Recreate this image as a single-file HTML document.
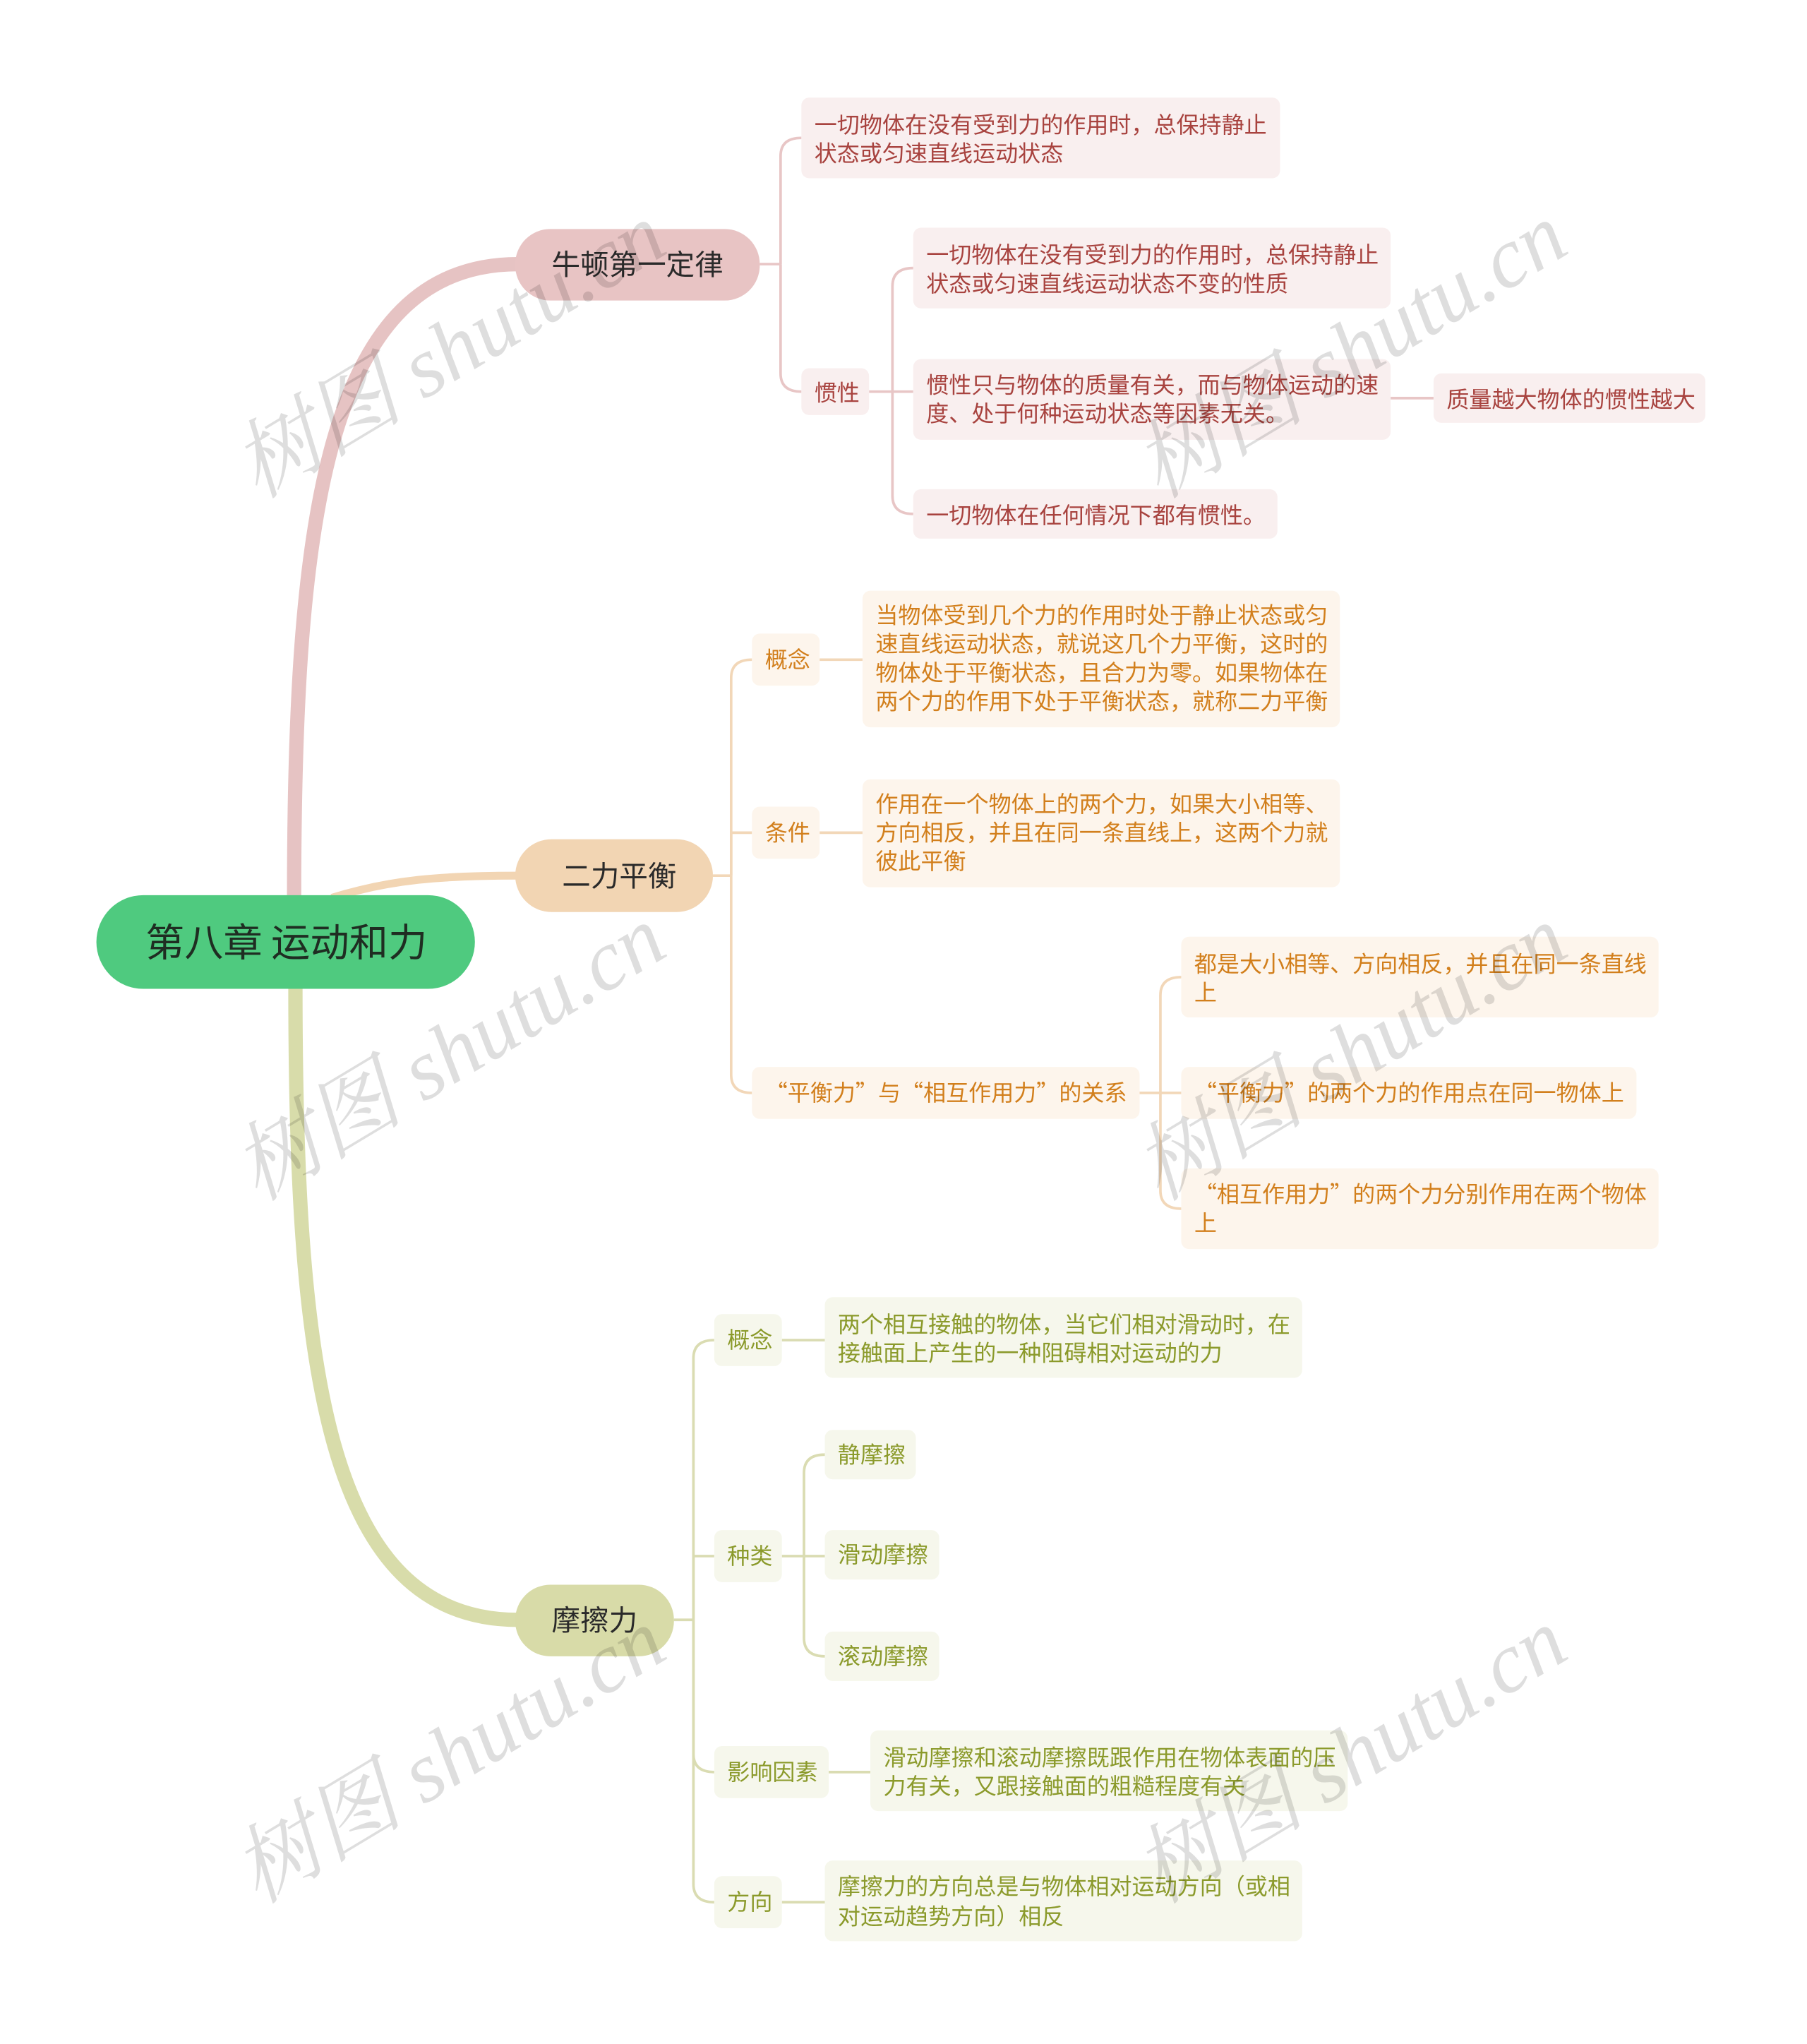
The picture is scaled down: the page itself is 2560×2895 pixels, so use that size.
<!DOCTYPE html>
<html><head><meta charset="utf-8"><style>
html,body{margin:0;padding:0;background:#fff}
svg{display:block}
text{font-family:"Noto Sans CJK SC","Liberation Sans",sans-serif}
.p{fill:#a8433f;font-size:17.4px}
.o{fill:#d27f1c;font-size:17.4px}
.g{fill:#8b9a2b;font-size:17.4px}
</style></head><body>
<svg width="2560" height="2895" viewBox="0 0 1389 1571" xmlns="http://www.w3.org/2000/svg">
<rect width="1389" height="1571" fill="#fff"/>
<path d="M226 690 C226 400 250 203 398 203" fill="none" stroke="#e6c3c3" stroke-width="11"/>
<path d="M255 690 C300 676 340 673 398 673" fill="none" stroke="#f2d5b3" stroke-width="6"/>
<path d="M227 758 C227 1050 250 1245 398 1245" fill="none" stroke="#d8dcaa" stroke-width="11"/>

<g fill="none" stroke="#e8c6c6" stroke-width="2">
<path d="M584 203 H600"/>
<path d="M600 203 V120 Q600 106 616 106"/>
<path d="M600 203 V287 Q600 301 616 301"/>
<path d="M668 301 H686"/>
<path d="M686 301 V220 Q686 206 702 206"/>
<path d="M686 301 H702"/>
<path d="M686 301 V381 Q686 395 702 395"/>
<path d="M1069 306 H1102"/>
</g>
<g fill="none" stroke="#f2d7b8" stroke-width="2">
<path d="M548 673 H562"/>
<path d="M562 673 V521 Q562 507 578 507"/>
<path d="M562 673 V640 H578"/>
<path d="M562 673 V826 Q562 840 578 840"/>
<path d="M630 507 H663"/>
<path d="M630 640 H663"/>
<path d="M876 840 H892"/>
<path d="M892 840 V765 Q892 751 908 751"/>
<path d="M892 840 H908"/>
<path d="M892 840 V915 Q892 929 908 929"/>
</g>
<g fill="none" stroke="#dadcb2" stroke-width="2">
<path d="M518 1245 H533"/>
<path d="M533 1245 V1044 Q533 1030 549 1030"/>
<path d="M533 1245 V1196 H549"/>
<path d="M533 1245 V1348 Q533 1362 549 1362"/>
<path d="M533 1245 V1448 Q533 1462 549 1462"/>
<path d="M601 1030 H634"/>
<path d="M601 1196 H618"/>
<path d="M618 1196 V1132 Q618 1118 634 1118"/>
<path d="M618 1196 H634"/>
<path d="M618 1196 V1259 Q618 1273 634 1273"/>
<path d="M637 1362 H669"/>
<path d="M601 1462 H634"/>
</g>

<rect x="74" y="688" width="291" height="72" rx="36" fill="#4fca7f"/>
<text x="220" y="735" font-size="30" fill="#1f2d22" text-anchor="middle">第八章 运动和力</text>

<rect x="396" y="176" width="188" height="55" rx="27" fill="#e8c4c4"/>
<text x="490" y="211" font-size="22" fill="#2a2a2a" text-anchor="middle">牛顿第一定律</text>
<rect x="396" y="645" width="152" height="56" rx="28" fill="#f2d5b3"/>
<text x="476" y="681" font-size="22" fill="#2a2a2a" text-anchor="middle">二力平衡</text>
<rect x="396" y="1218" width="122" height="55" rx="27" fill="#d8dba8"/>
<text x="457" y="1253" font-size="22" fill="#2a2a2a" text-anchor="middle">摩擦力</text>

<g fill="#f9efef">
<rect x="616" y="75" width="368" height="62" rx="6"/>
<rect x="616" y="283" width="52" height="36" rx="6"/>
<rect x="702" y="175" width="367" height="62" rx="6"/>
<rect x="702" y="276" width="367" height="62" rx="6"/>
<rect x="702" y="376" width="280" height="38" rx="6"/>
<rect x="1102" y="287" width="209" height="38" rx="6"/>
</g>
<text class="p" x="626" y="102">一切物体在没有受到力的作用时，总保持静止</text>
<text class="p" x="626" y="124">状态或匀速直线运动状态</text>
<text class="p" x="626" y="308">惯性</text>
<text class="p" x="712" y="202">一切物体在没有受到力的作用时，总保持静止</text>
<text class="p" x="712" y="224">状态或匀速直线运动状态不变的性质</text>
<text class="p" x="712" y="302">惯性只与物体的质量有关，而与物体运动的速</text>
<text class="p" x="712" y="324">度、处于何种运动状态等因素无关。</text>
<text class="p" x="712" y="402">一切物体在任何情况下都有惯性。</text>
<text class="p" x="1112" y="313">质量越大物体的惯性越大</text>

<g fill="#fdf5ec">
<rect x="578" y="487" width="52" height="40" rx="6"/>
<rect x="663" y="454" width="367" height="105" rx="6"/>
<rect x="578" y="620" width="52" height="40" rx="6"/>
<rect x="663" y="599" width="367" height="83" rx="6"/>
<rect x="578" y="820" width="298" height="40" rx="6"/>
<rect x="908" y="720" width="367" height="62" rx="6"/>
<rect x="908" y="820" width="350" height="40" rx="6"/>
<rect x="908" y="898" width="367" height="62" rx="6"/>
</g>
<text class="o" x="588" y="513">概念</text>
<text class="o" x="673" y="479">当物体受到几个力的作用时处于静止状态或匀</text>
<text class="o" x="673" y="501">速直线运动状态，就说这几个力平衡，这时的</text>
<text class="o" x="673" y="523">物体处于平衡状态，且合力为零。如果物体在</text>
<text class="o" x="673" y="545">两个力的作用下处于平衡状态，就称二力平衡</text>
<text class="o" x="588" y="646">条件</text>
<text class="o" x="673" y="624">作用在一个物体上的两个力，如果大小相等、</text>
<text class="o" x="673" y="646">方向相反，并且在同一条直线上，这两个力就</text>
<text class="o" x="673" y="668">彼此平衡</text>
<text class="o" x="588" y="846">“平衡力”与“相互作用力”的关系</text>
<text class="o" x="918" y="747">都是大小相等、方向相反，并且在同一条直线</text>
<text class="o" x="918" y="769">上</text>
<text class="o" x="918" y="846">“平衡力”的两个力的作用点在同一物体上</text>
<text class="o" x="918" y="924">“相互作用力”的两个力分别作用在两个物体</text>
<text class="o" x="918" y="946">上</text>

<g fill="#f6f7ec">
<rect x="549" y="1010" width="52" height="40" rx="6"/>
<rect x="634" y="997" width="367" height="62" rx="6"/>
<rect x="549" y="1176" width="52" height="40" rx="6"/>
<rect x="634" y="1099" width="70" height="38" rx="6"/>
<rect x="634" y="1176" width="88" height="38" rx="6"/>
<rect x="634" y="1254" width="88" height="38" rx="6"/>
<rect x="549" y="1342" width="88" height="40" rx="6"/>
<rect x="669" y="1330" width="367" height="62" rx="6"/>
<rect x="549" y="1442" width="52" height="40" rx="6"/>
<rect x="634" y="1430" width="367" height="62" rx="6"/>
</g>
<text class="g" x="559" y="1036">概念</text>
<text class="g" x="644" y="1024">两个相互接触的物体，当它们相对滑动时，在</text>
<text class="g" x="644" y="1046">接触面上产生的一种阻碍相对运动的力</text>
<text class="g" x="559" y="1202">种类</text>
<text class="g" x="644" y="1124">静摩擦</text>
<text class="g" x="644" y="1201">滑动摩擦</text>
<text class="g" x="644" y="1279">滚动摩擦</text>
<text class="g" x="559" y="1368">影响因素</text>
<text class="g" x="679" y="1357">滑动摩擦和滚动摩擦既跟作用在物体表面的压</text>
<text class="g" x="679" y="1379">力有关，又跟接触面的粗糙程度有关</text>
<text class="g" x="559" y="1468">方向</text>
<text class="g" x="644" y="1456">摩擦力的方向总是与物体相对运动方向（或相</text>
<text class="g" x="644" y="1479">对运动趋势方向）相反</text>

<g fill="#000" fill-opacity="0.13" font-size="66" font-style="italic">
<text transform="translate(198,384) rotate(-31)" style="font-family:'Liberation Serif','Noto Serif CJK SC',serif">树图 shutu.cn</text>
<text transform="translate(198,924) rotate(-31)" style="font-family:'Liberation Serif','Noto Serif CJK SC',serif">树图 shutu.cn</text>
<text transform="translate(198,1464) rotate(-31)" style="font-family:'Liberation Serif','Noto Serif CJK SC',serif">树图 shutu.cn</text>
<text transform="translate(891,384) rotate(-31)" style="font-family:'Liberation Serif','Noto Serif CJK SC',serif">树图 shutu.cn</text>
<text transform="translate(891,924) rotate(-31)" style="font-family:'Liberation Serif','Noto Serif CJK SC',serif">树图 shutu.cn</text>
<text transform="translate(891,1464) rotate(-31)" style="font-family:'Liberation Serif','Noto Serif CJK SC',serif">树图 shutu.cn</text>
</g>
</svg>
</body></html>
